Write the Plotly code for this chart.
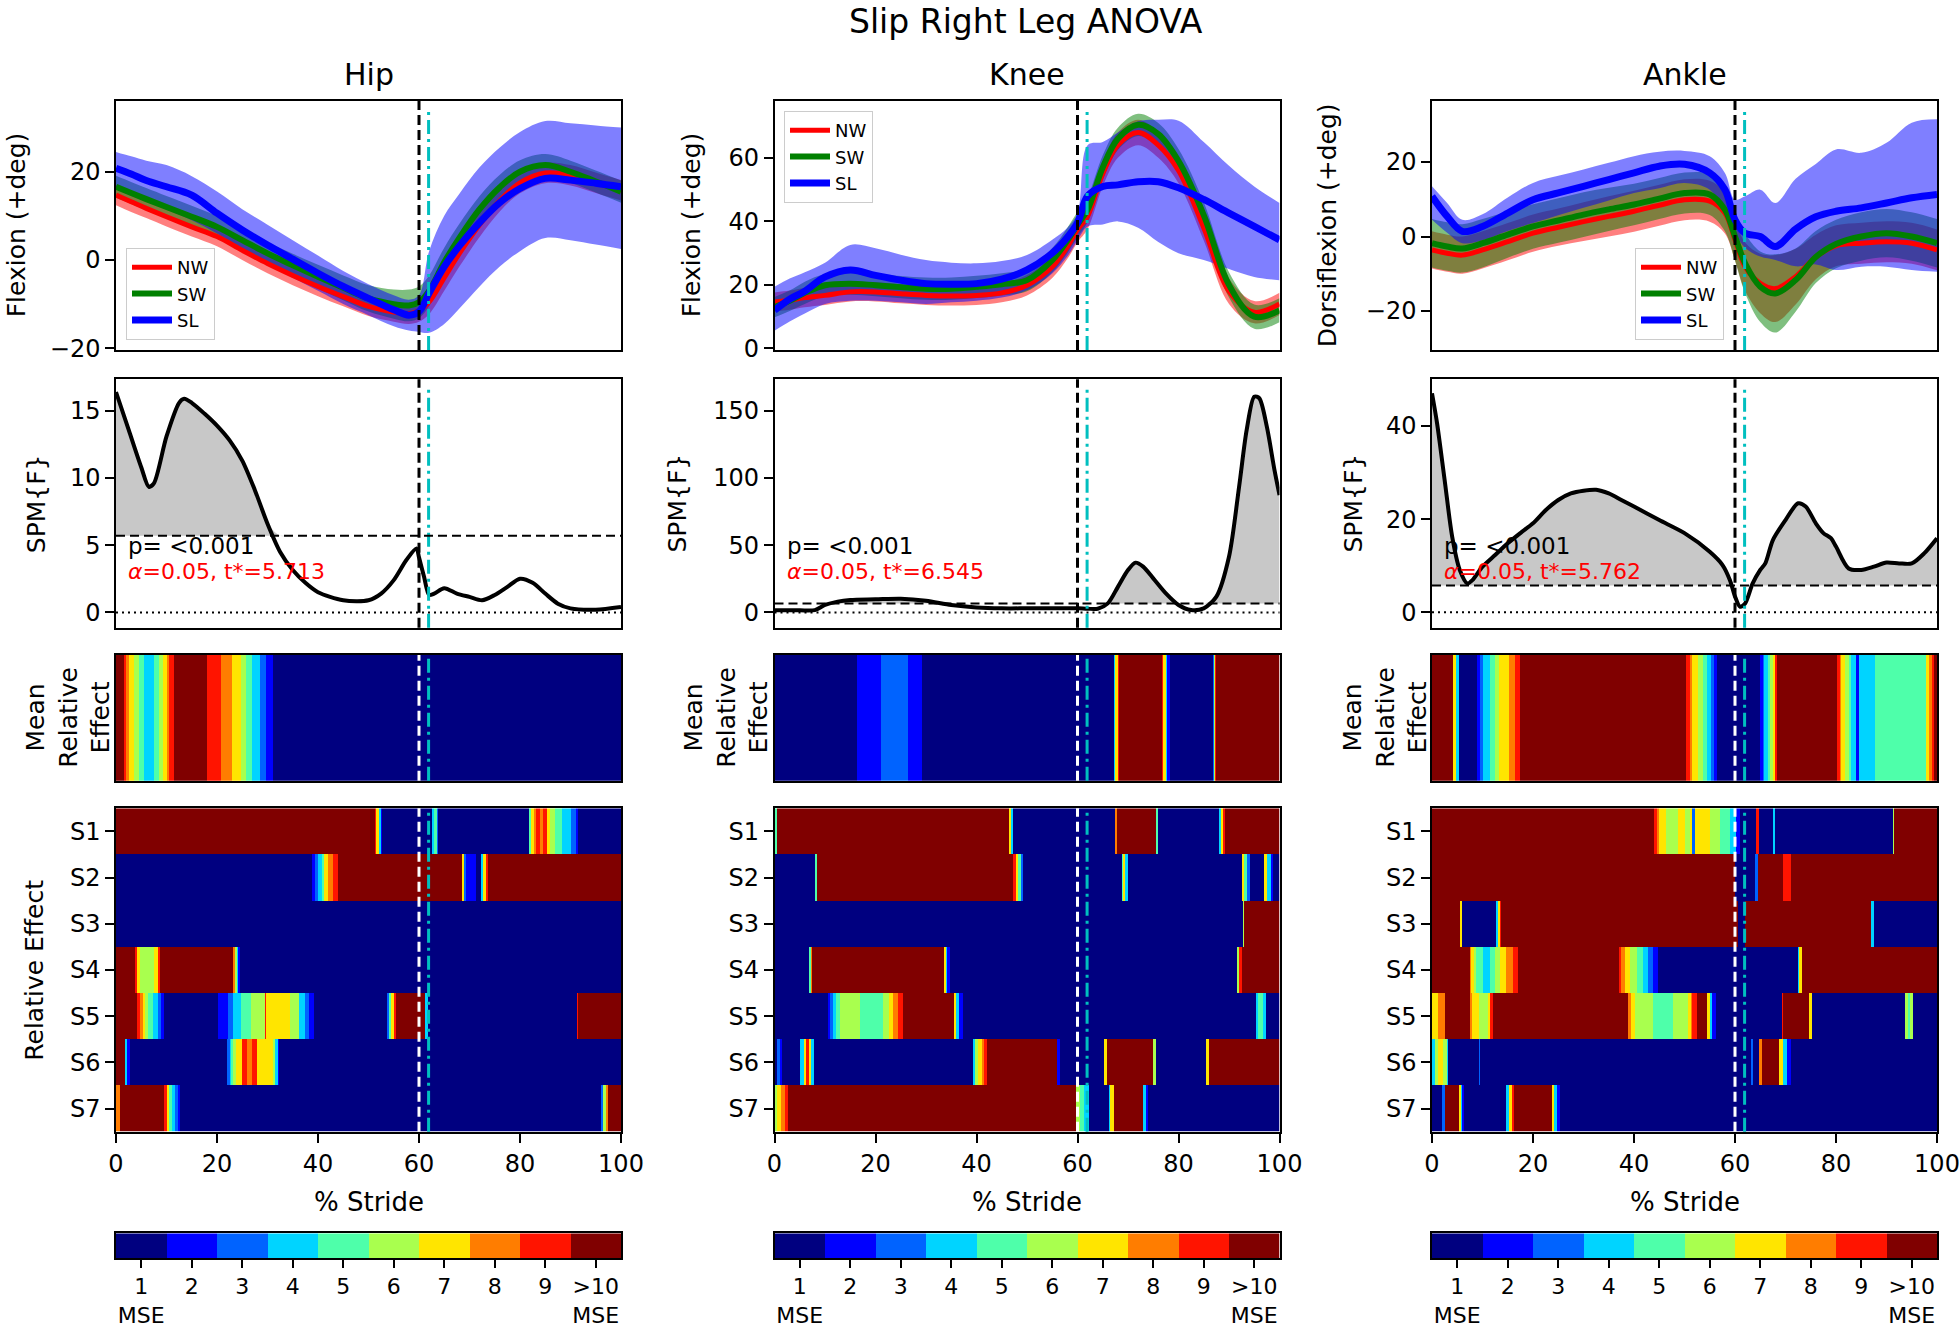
import numpy as np
import plotly.graph_objects as go
from plotly.subplots import make_subplots

# ---------------------------------------------------------------- data
STRIDE = [0, 3, 6, 10, 15, 20, 25, 30, 35, 40, 45, 50, 55, 58, 60, 62, 65, 68, 72, 76, 80, 85, 90, 95, 100]

# hip flexion (deg)
HIP_NW_MEAN = [14.7, 13.2, 11.7, 9.8, 7.5, 5.3, 2.2, -0.8, -3.5, -6.0, -8.3, -10.5, -11.8, -12.2, -11.5, -9.5, -4.0, 1.5, 8.0, 13.5, 17.5, 19.7, 19.2, 17.5, 15.8]
HIP_NW_SD = [2.3, 2.3, 2.2, 2.2, 2.2, 2.2, 2.2, 2.2, 2.2, 2.2, 2.2, 2.2, 2.2, 2.3, 2.5, 2.8, 3.0, 3.0, 2.8, 2.5, 2.4, 2.3, 2.3, 2.3, 2.3]
HIP_SW_MEAN = [16.6, 15.2, 13.8, 12.0, 9.8, 7.5, 4.5, 1.5, -1.2, -3.8, -6.3, -8.7, -10.0, -10.3, -9.6, -7.0, -0.5, 5.0, 11.5, 16.5, 20.0, 21.5, 20.0, 17.8, 15.5]
HIP_SW_SD = [2.5, 2.5, 2.5, 2.5, 2.5, 2.5, 2.5, 2.5, 2.6, 2.7, 2.8, 3.0, 3.3, 3.6, 3.6, 3.5, 3.3, 3.2, 3.0, 2.8, 2.6, 2.5, 2.5, 2.5, 2.5]
HIP_SL_MEAN = [20.8, 19.5, 18.0, 16.6, 14.7, 10.6, 6.8, 3.4, 0.2, -3.0, -6.0, -8.7, -11.3, -12.5, -11.7, -7.5, -1.5, 3.2, 8.5, 13.0, 16.2, 18.5, 18.1, 17.4, 16.6]
HIP_SL_LO = [16.5, 15.0, 13.5, 11.5, 9.0, 6.0, 2.5, -1.0, -4.0, -7.0, -10.0, -12.5, -15.0, -16.0, -16.3, -16.5, -14.5, -11.0, -6.0, -1.5, 2.0, 5.0, 4.5, 3.5, 2.5]
HIP_SL_HI = [24.5, 23.5, 22.5, 21.5, 19.0, 15.5, 11.5, 8.0, 4.5, 1.0, -2.5, -5.5, -8.0, -9.0, -8.0, 2.0, 10.0, 15.0, 21.0, 25.5, 29.0, 31.5, 31.0, 30.5, 30.0]

# knee flexion (deg)
KNEE_NW_MEAN = [14.6, 15.2, 16.0, 16.7, 17.8, 17.8, 17.2, 16.7, 16.5, 16.7, 17.5, 19.9, 25.7, 32.0, 37.4, 41.6, 55.0, 64.0, 68.0, 64.0, 56.0, 38.0, 18.0, 11.4, 14.0]
KNEE_NW_SD = [3.0, 3.0, 3.0, 3.0, 3.0, 3.0, 3.0, 3.0, 3.0, 3.0, 3.0, 3.2, 3.5, 3.8, 4.0, 4.0, 4.0, 4.0, 4.0, 4.0, 4.0, 4.0, 4.0, 3.5, 3.5]
KNEE_SW_MEAN = [13.0, 15.0, 17.5, 19.9, 20.4, 19.9, 19.3, 18.8, 18.8, 19.4, 20.2, 21.5, 27.8, 34.0, 39.0, 43.7, 57.0, 66.0, 70.4, 67.5, 59.0, 42.0, 20.0, 10.0, 12.0]
KNEE_SW_SD = [3.2, 3.2, 3.5, 3.5, 3.5, 3.5, 3.5, 3.5, 3.5, 3.5, 3.5, 3.5, 3.8, 4.0, 4.0, 4.0, 3.8, 3.5, 3.5, 3.5, 3.8, 4.0, 4.0, 3.8, 3.8]
KNEE_SL_MEAN = [12.0, 15.5, 18.0, 22.5, 24.7, 23.0, 21.5, 20.4, 20.2, 20.4, 21.8, 24.7, 30.0, 35.0, 39.5, 48.0, 51.0, 51.5, 52.5, 52.5, 50.6, 46.9, 42.6, 38.4, 34.2]
KNEE_SL_LO = [5.6, 8.5, 11.0, 14.0, 15.0, 15.0, 14.5, 14.0, 14.5, 15.0, 16.0, 18.3, 23.6, 29.0, 34.0, 38.4, 39.0, 40.0, 38.0, 33.5, 30.0, 27.8, 25.0, 22.5, 21.5]
KNEE_SL_HI = [19.4, 22.0, 24.0, 27.0, 32.6, 31.5, 29.5, 27.8, 27.0, 26.8, 27.5, 29.4, 34.2, 38.0, 42.6, 64.0, 65.0, 68.0, 71.5, 72.0, 71.7, 65.0, 57.5, 51.0, 45.8]

# ankle dorsiflexion (deg)
ANKLE_NW_MEAN = [-3.6, -4.5, -5.0, -3.6, -1.4, 0.9, 2.5, 4.0, 5.4, 6.8, 8.4, 9.9, 9.5, 6.3, -0.9, -8.1, -12.6, -14.0, -10.8, -5.5, -2.5, -1.8, -1.4, -1.8, -3.6]
ANKLE_NW_SD = [5.0, 5.0, 5.0, 5.0, 5.0, 5.0, 5.0, 5.2, 5.4, 5.5, 5.5, 5.5, 5.5, 5.5, 5.5, 6.5, 8.0, 9.0, 7.5, 6.0, 5.5, 5.5, 5.5, 5.5, 5.5]
ANKLE_SW_MEAN = [-1.8, -2.7, -3.2, -1.8, 0.5, 2.7, 4.3, 5.9, 7.3, 8.6, 10.2, 11.7, 11.3, 7.2, 0.0, -7.2, -13.5, -15.3, -11.7, -5.5, -2.0, 0.0, 0.9, 0.0, -1.8]
ANKLE_SW_SD = [6.5, 6.5, 6.5, 6.5, 6.2, 6.0, 6.0, 6.0, 5.8, 5.6, 5.5, 5.5, 5.5, 5.8, 6.5, 8.0, 9.5, 10.5, 8.5, 7.0, 6.5, 6.5, 6.5, 6.5, 6.5]
ANKLE_SL_MEAN = [10.8, 5.4, 1.4, 2.7, 6.3, 9.9, 11.7, 13.5, 15.3, 17.1, 18.9, 19.4, 17.1, 12.6, 4.5, 0.9, 0.0, -2.7, 2.0, 5.3, 6.8, 7.7, 9.0, 10.4, 11.3]
ANKLE_SL_LO = [4.5, 1.0, -1.8, -1.0, 1.5, 3.6, 5.7, 7.7, 9.7, 11.7, 13.0, 14.4, 12.6, 6.3, 0.9, -3.0, -5.4, -6.3, -8.0, -7.5, -9.0, -8.1, -8.1, -9.0, -9.5]
ANKLE_SL_HI = [13.5, 9.0, 4.5, 6.0, 10.5, 14.4, 16.3, 18.0, 19.8, 21.6, 22.8, 23.0, 21.6, 17.1, 9.9, 10.8, 12.6, 9.0, 15.5, 19.5, 23.4, 22.5, 25.2, 30.6, 31.5]

# SPM{F} curves and critical thresholds
HIP_SPM_X = [0, 2.5, 5, 6.5, 7.5, 10, 12.5, 13.5, 15, 17.5, 20, 22.5, 25, 27.5, 30, 32.5, 35, 37.5, 40, 45, 50, 52.5, 55, 57.5, 59.5, 60, 61, 62, 63, 65, 67.5, 70, 72.5, 75, 77.5, 80, 82.5, 85, 87.5, 90, 95, 100]
HIP_SPM_F = [16.4, 13.6, 10.8, 9.35, 9.6, 13.1, 15.6, 15.9, 15.6, 14.8, 13.9, 12.8, 11.3, 9.1, 6.6, 4.5, 3.15, 2.2, 1.5, 0.9, 0.9, 1.4, 2.4, 3.9, 4.75, 4.1, 2.65, 1.3, 1.4, 1.8, 1.4, 1.15, 0.9, 1.3, 1.9, 2.5, 2.2, 1.4, 0.65, 0.3, 0.2, 0.4]
KNEE_SPM_X = [0, 5, 8, 10, 12.5, 15, 20, 25, 30, 35, 40, 45, 50, 55, 60, 62, 64, 66, 68, 70, 71.5, 73, 75, 77.5, 80, 82.5, 85, 87.5, 90, 92, 93.5, 95, 96, 97.5, 99, 100]
KNEE_SPM_F = [1.5, 1.5, 1.7, 5.5, 8.0, 9.2, 9.7, 10.2, 8.7, 5.5, 3.7, 3.0, 3.0, 3.0, 3.0, 2.7, 2.7, 6.7, 19.0, 31.5, 37.0, 34.0, 25.3, 14.1, 5.5, 1.7, 3.0, 11.7, 41.4, 93.5, 135.7, 160.5, 159.3, 138.0, 106.0, 87.3]
ANKLE_SPM_X = [0, 1, 2.5, 4, 5.5, 7, 8, 10, 12.5, 15, 17.5, 20, 22.5, 25, 27.5, 30, 32.5, 35, 37.5, 40, 45, 50, 55, 57.5, 59, 60, 61, 62, 63.5, 65, 66, 67.5, 70, 72.5, 74, 76, 77.5, 79, 80, 82.5, 85, 87.5, 90, 92.5, 95, 97.5, 100]
ANKLE_SPM_F = [47.0, 40.6, 28.4, 16.2, 9.1, 6.2, 6.9, 9.8, 12.3, 14.8, 17.0, 19.1, 21.9, 24.1, 25.5, 26.1, 26.3, 25.5, 24.1, 22.7, 19.8, 17.0, 13.0, 10.2, 6.9, 3.4, 1.2, 1.9, 6.2, 9.1, 10.5, 15.5, 19.8, 23.4, 22.7, 19.1, 17.0, 15.9, 14.1, 9.4, 9.1, 9.8, 10.7, 10.5, 10.5, 12.7, 15.9]
T_CRIT = [5.713, 6.545, 5.762]

# gait events (% stride)
TOE_OFF = 60
SLIP_ONSET = 61.9

# relative effect (MSE level 1..10), written as (start % stride, level) runs
HIP_MEAN_RE = [(0, 10), (1.4, 9), (2, 8), (2.6, 7), (3.6, 6), (4.6, 5), (5.6, 4), (7.6, 5), (8.5, 6), (9.3, 7), (9.9, 8), (10.6, 9), (11.4, 10), (18, 9), (20.8, 8), (23.1, 7), (24.8, 6), (25.8, 5), (27.1, 4), (28.6, 3), (29.8, 2), (30.9, 1)]
HIP_S1 = [(0, 10), (51.2, 9), (51.6, 7), (52, 4), (52.4, 2), (52.8, 1), (62.5, 4), (63, 5), (63.4, 3), (63.7, 1), (81.8, 5), (82.3, 7), (82.8, 8), (83.3, 9), (84, 8), (84.6, 9), (85.2, 7), (86, 6), (87, 5), (88.3, 4), (90, 3), (91, 2), (91.6, 1)]
HIP_S2 = [(0, 1), (38.7, 2), (39.5, 3), (40, 4), (40.8, 5), (41.3, 7), (42, 8), (43, 9), (44, 10), (68.5, 7), (68.9, 3), (69.2, 2), (71.2, 1), (72.2, 4), (72.7, 7), (73.2, 9), (73.8, 10)]
HIP_S3 = [(0, 1)]
HIP_S4 = [(0, 10), (3.8, 9), (4.2, 7), (4.8, 6), (7.6, 7), (8.2, 9), (8.7, 10), (23.2, 8), (23.6, 6), (24, 4), (24.3, 2), (24.6, 1)]
HIP_S5 = [(0, 10), (4.2, 9), (4.7, 8), (5.2, 7), (5.7, 6), (6.3, 5), (7.2, 4), (8.3, 3), (9, 2), (9.6, 1), (20.2, 2), (22.2, 3), (23.3, 4), (24.7, 5), (26.8, 6), (29.4, 9), (29.7, 7), (34.5, 6), (36.2, 4), (37.5, 3), (38.2, 2), (39.3, 1), (53.7, 3), (54.1, 5), (54.5, 7), (55, 9), (55.5, 10), (61.2, 4), (61.7, 1), (91.3, 9), (91.6, 10)]
HIP_S6 = [(0, 10), (1.7, 4), (2.2, 2), (2.8, 1), (22, 3), (22.4, 4), (22.8, 5), (23.3, 6), (23.8, 7), (25, 9), (26, 8), (27, 9), (28, 7), (31, 6), (31.6, 4), (32, 2), (32.2, 1)]
HIP_S7 = [(0, 8), (0.8, 10), (9.5, 9), (10, 7), (10.5, 5), (11, 4), (11.8, 3), (12.3, 2), (12.8, 1), (96, 3), (96.5, 6), (97, 8), (97.5, 10)]

KNEE_MEAN_RE = [(0, 1), (16.2, 2), (21, 3), (26.5, 2), (29.2, 1), (67.3, 4), (67.6, 7), (67.9, 9), (68.2, 10), (76.7, 9), (77, 7), (77.4, 4), (77.8, 2), (78.3, 1), (86.7, 3), (87, 6), (87.3, 9), (87.6, 10)]
KNEE_S1 = [(0, 5), (0.6, 10), (46.4, 7), (46.8, 4), (47.3, 1), (67.5, 8), (67.8, 10), (75.5, 5), (75.9, 1), (88, 4), (88.4, 7), (88.8, 9), (89.2, 10)]
KNEE_S2 = [(0, 1), (8.1, 5), (8.6, 10), (47.2, 9), (47.7, 7), (48.2, 5), (48.7, 3), (49.3, 1), (68.7, 5), (69.1, 7), (69.5, 4), (69.9, 1), (92.4, 7), (93, 5), (93.6, 3), (94.2, 1), (97, 7), (97.6, 4), (98.2, 2), (98.7, 1)]
KNEE_S3 = [(0, 1), (92.8, 6), (93.1, 10)]
KNEE_S4 = [(0, 1), (6.8, 5), (7.2, 8), (7.6, 10), (33.5, 7), (33.9, 4), (34.3, 2), (34.7, 1), (91.4, 6), (91.9, 9), (92.4, 10)]
KNEE_S5 = [(0, 1), (10.5, 2), (11, 3), (11.6, 4), (12.3, 5), (13, 6), (17, 5), (21.4, 6), (22.8, 7), (23.6, 8), (24.5, 9), (25.4, 10), (35.5, 7), (36, 4), (36.6, 2), (37.2, 1), (95.3, 4), (95.8, 5), (96.8, 4), (97.3, 1)]
KNEE_S6 = [(0, 1), (0.6, 3), (1.1, 2), (1.6, 1), (5.1, 4), (5.7, 7), (6.2, 9), (6.8, 7), (7.3, 4), (7.7, 1), (39.2, 4), (39.8, 6), (40.3, 7), (41, 8), (41.5, 9), (42, 10), (56.1, 2), (56.5, 1), (65.3, 7), (65.8, 10), (75.1, 6), (75.5, 1), (85.6, 7), (86.1, 10)]
KNEE_S7 = [(0, 6), (0.6, 7), (1.2, 8), (2, 9), (2.8, 10), (59.8, 6), (60.5, 5), (61.2, 4), (62.2, 1), (66.2, 4), (66.6, 7), (67.2, 10), (73.1, 4), (73.5, 2), (73.9, 1)]

ANKLE_MEAN_RE = [(0, 10), (4.3, 7), (4.8, 4), (5.3, 1), (9.1, 2), (9.5, 3), (10, 4), (11.5, 5), (12.5, 6), (13.2, 7), (15.3, 8), (16.5, 9), (17.4, 10), (50.3, 9), (51, 8), (51.6, 7), (52.8, 6), (53.7, 5), (54.5, 4), (55.3, 3), (55.8, 2), (56.6, 1), (64.9, 2), (65.4, 3), (65.8, 4), (66.5, 5), (67, 6), (67.5, 7), (68, 9), (68.3, 10), (80.3, 9), (80.7, 8), (81, 7), (81.8, 6), (82.5, 5), (83, 4), (84, 2), (84.4, 4), (87.8, 5), (97.8, 7), (98.4, 8), (99, 9), (99.5, 10)]
ANKLE_S1 = [(0, 10), (44.1, 9), (44.6, 8), (45, 7), (46.2, 6), (48.7, 7), (50, 6), (51, 7), (51.6, 3), (52, 7), (55, 6), (57, 5), (59, 4), (60.3, 2), (61, 1), (64.2, 9), (64.8, 1), (67.4, 4), (67.9, 1), (91.2, 6), (91.6, 10)]
ANKLE_S2 = [(0, 10), (60, 1), (64.1, 3), (64.6, 10), (69.5, 9), (71, 10)]
ANKLE_S3 = [(0, 10), (5.6, 7), (5.9, 4), (6.1, 1), (12.7, 4), (13.1, 7), (13.4, 9), (13.7, 10), (60.4, 1), (62, 10), (87, 4), (87.4, 1)]
ANKLE_S4 = [(0, 10), (7.4, 8), (7.8, 7), (8.2, 6), (8.7, 5), (10, 4), (11.5, 5), (12.5, 6), (13.5, 7), (14.7, 8), (16, 9), (17, 10), (37, 9), (37.5, 8), (38.2, 7), (39.2, 6), (40.5, 5), (41.7, 4), (42.7, 3), (43.7, 2), (44.8, 1), (72.4, 4), (72.8, 7), (73.2, 10)]
ANKLE_S5 = [(0, 7), (1.2, 8), (2.4, 10), (7.4, 8), (8, 7), (9.2, 6), (11, 7), (11.6, 9), (12, 10), (38.7, 8), (39.5, 7), (40.3, 6), (43.7, 5), (47.8, 6), (50.75, 7), (51.2, 8), (51.6, 9), (52.4, 10), (54.5, 7), (55, 4), (55.6, 2), (56.2, 1), (69.3, 9), (69.6, 10), (74.8, 7), (75.2, 1), (93.7, 6), (94.3, 5), (94.8, 6), (95.3, 1)]
ANKLE_S6 = [(0, 4), (0.6, 6), (1.3, 7), (2.3, 6), (2.9, 4), (3.3, 1), (9.2, 3), (9.5, 1), (63.2, 3), (63.6, 1), (64.8, 8), (65.2, 10), (68.7, 7), (69.5, 4), (70.3, 2), (71, 1)]
ANKLE_S7 = [(0, 1), (2, 3), (2.4, 10), (5.3, 7), (5.7, 4), (6, 2), (6.3, 1), (14.75, 4), (15.3, 7), (15.8, 9), (16.2, 10), (23.7, 7), (24.3, 4), (24.8, 2), (25.3, 1)]

SUBJECTS = ['S1', 'S2', 'S3', 'S4', 'S5', 'S6', 'S7']
MSE_LEVELS = [1, 2, 3, 4, 5, 6, 7, 8, 9, 10]
MSE_LABELS = ['1<br>MSE', '2', '3', '4', '5', '6', '7', '8', '9', '>10<br>MSE']
# matplotlib 'jet' cut into 10 bins
JET10 = ['#000080', '#0000ff', '#0063ff', '#00d4ff', '#4effaa', '#a9ff4e', '#ffe500', '#ff7d00', '#ff1400', '#800000']

# ---------------------------------------------------------------- layout helpers
W, H = 1959, 1330
FONT = 'DejaVu Sans'
COL_PX = [(116, 621), (774.5, 1279.5), (1432, 1937)]
ROW_PX = [(100.7, 350), (379.3, 627.7), (655, 780.7), (808.3, 1131.7)]
CBAR_PX = (1233.3, 1258.3)

joints = [
    dict(title='Hip', ylabel='Flexion (+deg)', yrange=[-20.4, 36.1], ytick=20,
         cond={'NW': (HIP_NW_MEAN, HIP_NW_SD), 'SW': (HIP_SW_MEAN, HIP_SW_SD),
               'SL': (HIP_SL_MEAN, HIP_SL_LO, HIP_SL_HI)},
         spm=(HIP_SPM_X, HIP_SPM_F), spm_range=[-1.14, 17.35], spm_dtick=5,
         mean_re=HIP_MEAN_RE, subj=[HIP_S1, HIP_S2, HIP_S3, HIP_S4, HIP_S5, HIP_S6, HIP_S7],
         lab_px=[16, 36.7, 68, 33.7], legend=(126, 248)),
    dict(title='Knee', ylabel='Flexion (+deg)', yrange=[-0.5, 78], ytick=20,
         cond={'NW': (KNEE_NW_MEAN, KNEE_NW_SD), 'SW': (KNEE_SW_MEAN, KNEE_SW_SD),
               'SL': (KNEE_SL_MEAN, KNEE_SL_LO, KNEE_SL_HI)},
         spm=(KNEE_SPM_X, KNEE_SPM_F), spm_range=[-11.4, 173.4], spm_dtick=50,
         mean_re=KNEE_MEAN_RE, subj=[KNEE_S1, KNEE_S2, KNEE_S3, KNEE_S4, KNEE_S5, KNEE_S6, KNEE_S7],
         lab_px=[691, 677, 726, None], legend=(784, 111)),
    dict(title='Ankle', ylabel='Dorsiflexion (+deg)', yrange=[-30.5, 36.5], ytick=20,
         cond={'NW': (ANKLE_NW_MEAN, ANKLE_NW_SD), 'SW': (ANKLE_SW_MEAN, ANKLE_SW_SD),
               'SL': (ANKLE_SL_MEAN, ANKLE_SL_LO, ANKLE_SL_HI)},
         spm=(ANKLE_SPM_X, ANKLE_SPM_F), spm_range=[-3.3, 50], spm_dtick=20,
         mean_re=ANKLE_MEAN_RE, subj=[ANKLE_S1, ANKLE_S2, ANKLE_S3, ANKLE_S4, ANKLE_S5, ANKLE_S6, ANKLE_S7],
         lab_px=[1327, 1353, 1385, None], legend=(1635, 248)),
]

LINE = {'NW': '#ff0000', 'SW': '#008000', 'SL': '#0000ff'}
BAND = {'NW': 'rgba(255,0,0,0.5)', 'SW': 'rgba(0,128,0,0.5)', 'SL': 'rgba(0,0,255,0.5)'}
LW = {'NW': 5, 'SW': 6, 'SL': 7}

CELLS = np.arange(400) * 0.25 + 0.125


def decode(runs):
    starts = np.array([s for s, _ in runs])
    levels = np.array([lv for _, lv in runs])
    return levels[np.searchsorted(starts, CELLS, side='right') - 1]


def ax_ids(r, c):
    n = (r - 1) * 3 + c
    return ('x' if n == 1 else f'x{n}'), ('y' if n == 1 else f'y{n}')


def text(s, x_px, y_px, size=25, angle=0, color='black', xanchor='center'):
    fig.add_annotation(text=s, x=x_px / W, y=1 - y_px / H, xref='paper', yref='paper',
                       showarrow=False, textangle=angle, xanchor=xanchor, yanchor='middle',
                       font=dict(family=FONT, size=size, color=color))


AXIS_STYLE = dict(showline=True, linecolor='black', linewidth=1.5, mirror=True, showgrid=False,
                  zeroline=False, tickcolor='black', tickwidth=1.5, ticks='outside', automargin=False,
                  ticklabeloverflow='allow', tickfont=dict(family=FONT, size=24, color='black'))

fig = make_subplots(rows=4, cols=3)

scale = []
for i, col in enumerate(JET10):
    scale += [[i / 10, col], [(i + 1) / 10, col]]

legend_names = ['legend', 'legend2', 'legend3']

for c, j in enumerate(joints, start=1):
    x = STRIDE
    cname = 'coloraxis' if c == 1 else f'coloraxis{c}'
    # --- joint angles
    bands = {}
    for k in ['NW', 'SW']:
        m, sd = j['cond'][k]
        bands[k] = (np.array(m) - np.array(sd), np.array(m) + np.array(sd))
    bands['SL'] = (np.array(j['cond']['SL'][1]), np.array(j['cond']['SL'][2]))
    for k in ['NW', 'SW', 'SL']:
        lo, hi = bands[k]
        fig.add_trace(go.Scatter(x=x, y=lo, mode='lines', line=dict(width=0, shape='spline'),
                                 showlegend=False, hoverinfo='skip'), row=1, col=c)
        fig.add_trace(go.Scatter(x=x, y=hi, mode='lines', line=dict(width=0, shape='spline'),
                                 fill='tonexty', fillcolor=BAND[k], showlegend=False,
                                 hoverinfo='skip'), row=1, col=c)
    for k in ['NW', 'SW', 'SL']:
        fig.add_trace(go.Scatter(x=x, y=j['cond'][k][0], mode='lines', name=k,
                                 line=dict(color=LINE[k], width=LW[k], shape='spline'),
                                 legend=legend_names[c - 1]), row=1, col=c)

    # --- SPM{F}
    sx, sf = j['spm']
    t = T_CRIT[c - 1]
    fig.add_trace(go.Scatter(x=sx, y=[t] * len(sx), mode='lines', line=dict(width=0),
                             showlegend=False, hoverinfo='skip'), row=2, col=c)
    fig.add_trace(go.Scatter(x=sx, y=np.maximum(np.array(sf), t), mode='lines',
                             line=dict(width=0, shape='spline', smoothing=0.8),
                             fill='tonexty', fillcolor='#c8c8c8', showlegend=False,
                             hoverinfo='skip'), row=2, col=c)
    fig.add_trace(go.Scatter(x=sx, y=sf, mode='lines', showlegend=False,
                             line=dict(color='black', width=4, shape='spline', smoothing=0.8)),
                  row=2, col=c)

    # --- mean relative effect / per subject relative effect
    fig.add_trace(go.Heatmap(x=CELLS, y=[0], z=[decode(j['mean_re'])], coloraxis=cname), row=3, col=c)
    fig.add_trace(go.Heatmap(x=CELLS, y=list(range(1, 8)), z=[decode(s) for s in j['subj']],
                             coloraxis=cname), row=4, col=c)

    x0, x1 = COL_PX[c - 1]
    for r in range(1, 5):
        y0, y1 = ROW_PX[r - 1]
        fig.update_xaxes(domain=[x0 / W, x1 / W], range=[0, 100], row=r, col=c)
        fig.update_yaxes(domain=[1 - y1 / H, 1 - y0 / H], row=r, col=c)
        xa, ya = ax_ids(r, c)
        vcol = 'black' if r <= 2 else 'white'
        top = 0.97 if r <= 2 else 1
        fig.add_shape(type='line', xref=xa, yref=f'{ya} domain', x0=TOE_OFF, x1=TOE_OFF, y0=0, y1=1,
                      line=dict(color=vcol, width=3, dash='10px,5px'))
        fig.add_shape(type='line', xref=xa, yref=f'{ya} domain', x0=SLIP_ONSET, x1=SLIP_ONSET, y0=0, y1=top,
                      line=dict(color='#00bfbf', width=3, dash='14px,5px,3px,5px'))

    fig.update_yaxes(range=j['yrange'], dtick=j['ytick'], row=1, col=c)
    fig.update_yaxes(range=j['spm_range'], dtick=j['spm_dtick'], row=2, col=c)
    fig.update_yaxes(range=[-0.5, 0.5], row=3, col=c)
    fig.update_yaxes(range=[7.5, 0.5], tickvals=list(range(1, 8)), ticktext=SUBJECTS, row=4, col=c)
    fig.update_xaxes(tickvals=[0, 20, 40, 60, 80, 100], row=4, col=c)

    # SPM threshold and zero lines
    xa, ya = ax_ids(2, c)
    fig.add_shape(type='line', xref=f'{xa} domain', yref=ya, x0=0, x1=1, y0=t, y1=t,
                  line=dict(color='black', width=2, dash='9px,5px'))
    fig.add_shape(type='line', xref=f'{xa} domain', yref=ya, x0=0, x1=1, y0=0, y1=0,
                  line=dict(color='black', width=2, dash='2px,4px'))
    fig.add_annotation(text='p= &lt;0.001', xref=f'{xa} domain', yref=f'{ya} domain', x=0.02, y=0.33,
                       xanchor='left', yanchor='middle', showarrow=False,
                       font=dict(family=FONT, size=23, color='black'))
    fig.add_annotation(text=f'<i>α</i>=0.05, t*={t:.3f}', xref=f'{xa} domain', yref=f'{ya} domain',
                       x=0.02, y=0.225, xanchor='left', yanchor='middle', showarrow=False,
                       font=dict(family=FONT, size=22, color='red'))

    # --- colour key drawn as its own strip of MSE cells
    n = 12 + c
    fig.add_trace(go.Heatmap(x=MSE_LEVELS, y=[0], z=[MSE_LEVELS], coloraxis=cname,
                             xaxis=f'x{n}', yaxis=f'y{n}'))
    fig.update_layout({
        f'xaxis{n}': dict(AXIS_STYLE, domain=[x0 / W, x1 / W], anchor=f'y{n}', range=[0.5, 10.5],
                          tickmode='array', tickvals=MSE_LEVELS, ticktext=MSE_LABELS, ticklen=8,
                          tickfont=dict(family=FONT, size=22, color='black')),
        f'yaxis{n}': dict(AXIS_STYLE, domain=[1 - CBAR_PX[1] / H, 1 - CBAR_PX[0] / H], anchor=f'x{n}',
                          range=[-0.5, 0.5], showticklabels=False, ticks=''),
        cname: dict(colorscale=scale, cmin=0.5, cmax=10.5, showscale=False),
    })

    # texts
    cx = (x0 + x1) / 2
    text(j['title'], cx, 75, size=30)
    text('% Stride', cx, 1202, size=26)
    lp = j['lab_px']
    text(j['ylabel'], lp[0], (ROW_PX[0][0] + ROW_PX[0][1]) / 2, angle=-90)
    text('SPM{F}', lp[1], (ROW_PX[1][0] + ROW_PX[1][1]) / 2, angle=-90)
    text('Mean<br>Relative<br>Effect', lp[2], (ROW_PX[2][0] + ROW_PX[2][1]) / 2, angle=-90)
    if lp[3] is not None:
        text('Relative Effect', lp[3], (ROW_PX[3][0] + ROW_PX[3][1]) / 2, angle=-90)

    lx, ly = j['legend']
    fig.update_layout({legend_names[c - 1]: dict(
        x=lx / W, y=1 - ly / H, xanchor='left', yanchor='top', traceorder='normal',
        bgcolor='rgba(255,255,255,0.8)', bordercolor='#cccccc', borderwidth=1, itemwidth=40,
        font=dict(family=FONT, size=18, color='black'), tracegroupgap=0)})

text('Slip Right Leg ANOVA', 1026, 22, size=33)

for r in range(1, 5):
    fig.update_xaxes(AXIS_STYLE, ticklen=10, row=r)
    fig.update_yaxes(AXIS_STYLE, ticklen=9, row=r)
for r in (1, 2, 3):
    fig.update_xaxes(showticklabels=False, ticks='', row=r)
fig.update_yaxes(showticklabels=False, ticks='', row=3)

fig.update_layout(width=W, height=H, autosize=False, margin=dict(l=0, r=0, t=0, b=0),
                  paper_bgcolor='white', plot_bgcolor='white',
                  font=dict(family=FONT, color='black'), showlegend=True)

# the page's default body margin would shift the fixed-size figure by 8 px
fig.write_html('out.html', config={'displayModeBar': False},
               post_script="document.body.style.margin = '0px';")
